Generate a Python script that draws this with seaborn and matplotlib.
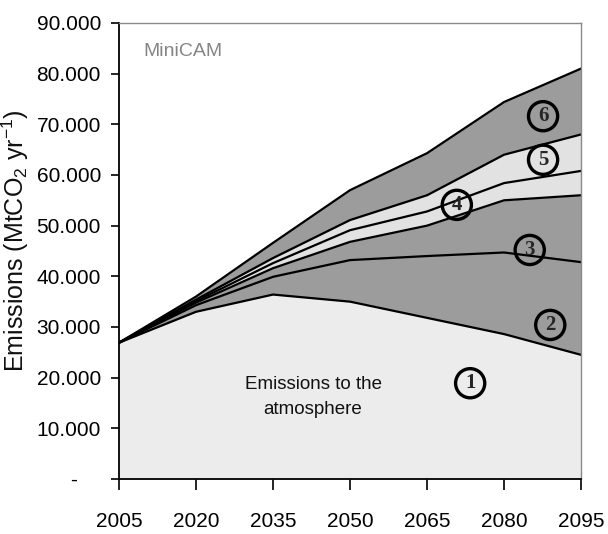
import matplotlib
matplotlib.use("Agg")
import matplotlib.pyplot as plt
from matplotlib import font_manager
import numpy as np
import pandas as pd
import seaborn as sns

# MiniCAM emission pathways, MtCO2 per year
years = [2005, 2020, 2035, 2050, 2065, 2080, 2095]
atmosphere = [26900, 33000, 36400, 35000, 31800, 28600, 24500]
option_2 = [0, 1300, 3500, 8200, 12200, 16100, 18300]
option_3 = [0, 500, 1700, 3600, 6000, 10300, 13200]
option_4 = [0, 300, 1000, 2300, 2800, 3400, 4800]
option_5 = [0, 300, 1000, 2000, 3200, 5600, 7200]
option_6 = [0, 600, 3000, 5900, 8300, 10400, 13000]

layers = [atmosphere, option_2, option_3, option_4, option_5, option_6]
layer_names = ["1", "2", "3", "4", "5", "6"]
layer_colors = ["#ececec", "#9c9c9c", "#9c9c9c", "#e2e2e2", "#e2e2e2", "#9c9c9c"]

y_ticks = [0, 10000, 20000, 30000, 40000, 50000, 60000, 70000, 80000, 90000]
y_tick_labels = ["-    ", "10.000", "20.000", "30.000", "40.000", "50.000",
                 "60.000", "70.000", "80.000", "90.000"]

sns.set_theme(style="ticks")
plt.rcParams["font.family"] = ["Liberation Sans", "DejaVu Sans"]
plt.rcParams["mathtext.fontset"] = "custom"
plt.rcParams["mathtext.rm"] = "Liberation Sans"
plt.rcParams["mathtext.it"] = "Liberation Sans:italic"

# narrow font for the tick labels if there is one, else plain Arial-like
installed = {f.name for f in font_manager.fontManager.ttflist}
if "Liberation Sans Narrow" in installed:
    narrow, tick_size, note_size = ["Liberation Sans Narrow"], 17, 16
else:
    narrow, tick_size, note_size = ["Liberation Sans", "DejaVu Sans"], 15, 13.5

# cumulative boundaries of the stacked areas
cum = np.cumsum(np.array(layers, dtype=float), axis=0)
df = pd.DataFrame({
    "year": np.tile(years, len(layers)),
    "emissions": cum.ravel(),
    "layer": np.repeat(layer_names, len(years)),
})

fig = plt.figure(figsize=(6.08, 5.34), dpi=100)
ax = fig.add_axes([0.1957, 0.103, 0.760, 0.854])

lower = np.zeros(len(years))
for i, name in enumerate(layer_names):
    upper = cum[i]
    ax.fill_between(years, lower, upper, color=layer_colors[i], lw=0, zorder=1)
    lower = upper

sns.lineplot(data=df, x="year", y="emissions", units="layer", estimator=None,
             color="black", lw=1.6, legend=False, ax=ax, zorder=2)

ax.set_xlim(2005, 2095)
ax.set_ylim(0, 90000)
ax.set_xticks(years)
ax.set_xticklabels([str(y) for y in years], family=narrow, fontsize=tick_size)
ax.set_yticks(y_ticks)
ax.set_yticklabels(y_tick_labels, family=narrow, fontsize=tick_size)
ax.tick_params(axis="y", length=6, width=1.2, pad=7, colors="black")
ax.tick_params(axis="x", length=8, width=1.2, pad=16, colors="black")

ax.set_xlabel("")
ax.set_ylabel(r"Emissions (MtCO$_2$ yr$^{-1}$)", fontsize=18, color="#111111")
ax.yaxis.set_label_coords(-0.19, 0.522)

for side in ["left", "bottom"]:
    ax.spines[side].set_color("black")
    ax.spines[side].set_linewidth(1.3)
for side in ["top", "right"]:
    ax.spines[side].set_visible(True)
    ax.spines[side].set_color("#8a8a8a")
    ax.spines[side].set_linewidth(1.0)

ax.text(2009.7, 84300, "MiniCAM", fontsize=14, color="#858585",
        ha="left", va="center")
ax.text(2042.8, 16200, "Emissions to the\natmosphere", family=narrow,
        fontsize=note_size, color="#111111", ha="center", va="center",
        linespacing=1.6)

label_pos = [(2073.4, 18900), (2089.0, 30400), (2085.0, 45200),
             (2070.8, 54100), (2087.6, 63000), (2087.6, 71600)]
for name, (lx, ly) in zip(layer_names, label_pos):
    ax.text(lx, ly, name, family=["Liberation Serif", "DejaVu Serif"],
            fontweight="bold", fontsize=15, ha="center", va="center", zorder=3,
            bbox=dict(boxstyle="circle,pad=0.22", fc="none", ec="black", lw=2.4))

fig.savefig("out.png", dpi=100)
